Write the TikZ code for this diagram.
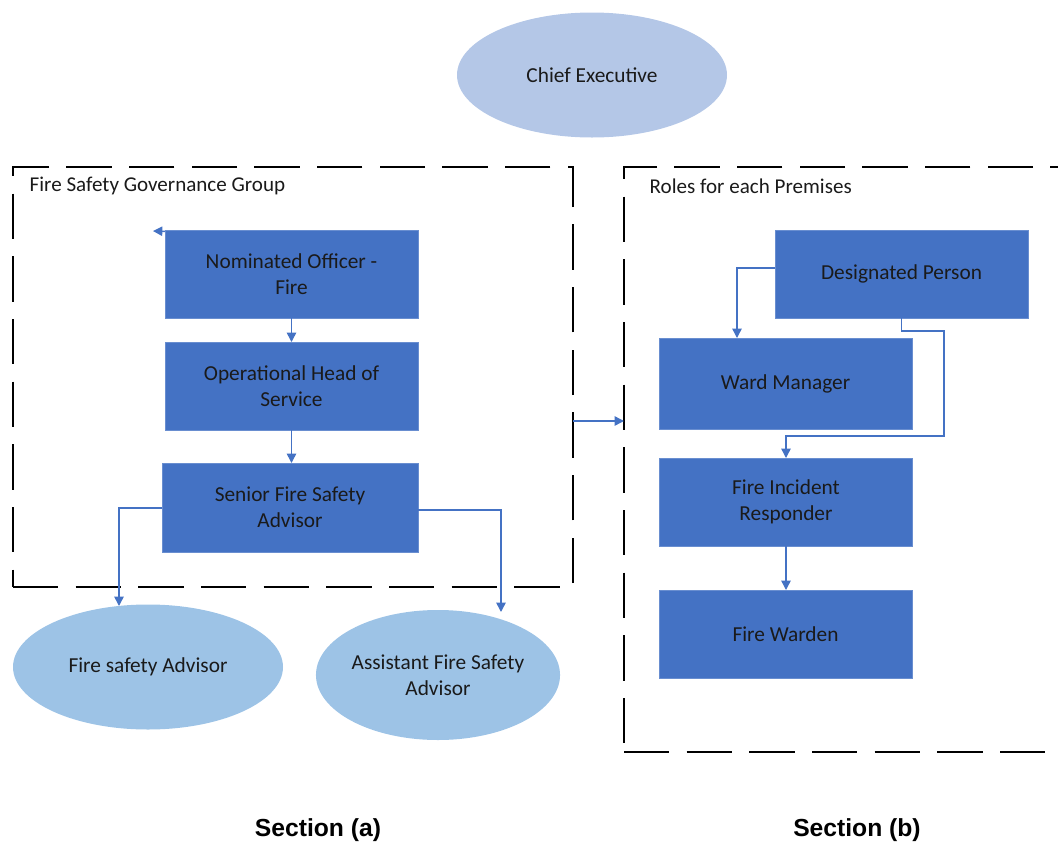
\documentclass[tikz,border=0pt]{standalone}
\usepackage{fontspec}
\setmainfont{Carlito}
\newfontfamily\secfont{Liberation Sans}
\usetikzlibrary{arrows.meta,shapes.geometric}
\definecolor{boxblue}{HTML}{4472C4}
\definecolor{chiefblue}{HTML}{B4C7E7}
\definecolor{ellblue}{HTML}{9DC3E6}
\definecolor{txt}{HTML}{1A1A1A}
\tikzset{
  rolebox/.style={rectangle, fill=boxblue, draw=boxblue!80!white, line width=0.4pt, inner sep=0pt, outer sep=0pt,
    minimum width=189.75pt, minimum height=66pt, align=center, text=txt, font=\fontsize{16}{19.5}\selectfont},
  roleell/.style={ellipse, fill=ellblue, inner sep=0pt, outer sep=0pt, align=center, text=txt,
    font=\fontsize{16}{19.5}\selectfont},
  group/.style={rectangle, draw=black, line width=2.2pt, dash pattern=on 34pt off 13pt, inner sep=0pt, outer sep=0pt},
  grouplabel/.style={anchor=west, text=txt, font=\fontsize{15.8}{18}\selectfont},
  conn/.style={draw=boxblue, line width=1.1pt, -{Triangle[length=7pt,width=7pt]}},
  seclabel/.style={font=\secfont\bfseries\fontsize{18.5}{22}\selectfont, text=black},
}
\begin{document}
\begin{tikzpicture}[x=0.75pt,y=-0.75pt]
\useasboundingbox (0,0) rectangle (1058,843);
\begin{scope}
\clip (0,0) rectangle (1058,843);
% groups
\node[group, minimum width=420pt, minimum height=315pt] (leftgrp) at (293,377) {};
\node[group, minimum width=357pt, minimum height=438.75pt] (rightgrp) at (862,459.5) {};
\end{scope}
\node[grouplabel] (leftlbl) at (25,186) {Fire Safety Governance Group};
\node[grouplabel] (rightlbl) at (645,186) {Roles for each Premises};

% chief
\node[roleell, fill=chiefblue, minimum width=202.5pt, minimum height=93.75pt] (chief) at (592,75) {Chief Executive};

% left column
\node[rolebox] (nom) at (291.5,274) {Nominated Officer -\\Fire};
\node[rolebox] (ops) at (291.5,386) {Operational Head of\\Service};
\node[rolebox, minimum width=192pt, minimum height=66.75pt] (sen) at (290,507.5) {Senior Fire Safety\\Advisor};

\node[roleell, minimum width=202.5pt, minimum height=93.75pt] (fsa) at (148,667) {Fire safety Advisor};
\node[roleell, minimum width=180pt, minimum height=97.5pt] (asa) at (438,675) {Assistant Fire Safety\\Advisor};

% right column
\node[rolebox] (des) at (901.5,274) {Designated Person};
\node[rolebox, minimum height=68.25pt] (ward) at (785.5,383.5) {Ward Manager};
\node[rolebox] (fir) at (786,502) {Fire Incident\\Responder};
\node[rolebox] (warden) at (785.5,634) {Fire Warden};

% coordinates
\coordinate (nomtip) at (153,231);
\coordinate (fsatop) at (119,606);
\coordinate (asatop) at (501,612);
\coordinate (r1) at (944,331);
\coordinate (r2) at (944,436);

% connectors
\draw[conn] ([yshift=-1pt]nom.north west) -- (nomtip);
\draw[conn] (nom.south) -- (ops.north);
\draw[conn] (ops.south) -- (ops.south |- sen.north);
\draw[conn] (sen.west |- 0,508) -| (fsatop);
\draw[conn] (sen.east |- 0,510) -| (asatop);
\draw[conn] (leftgrp.east |- 0,421) -- (rightgrp.west |- 0,421);
\draw[conn] (des.west |- 0,268) -| (ward.north -| 737,0);
\draw[conn] (des.south) |- (r1) -- (r2) -| (fir.north);
\draw[conn] (fir.south) -- (fir.south |- warden.north);

% section labels
\node[seclabel] (seca) at (318,830) {Section (a)};
\node[seclabel] (secb) at (857,830) {Section (b)};
\end{tikzpicture}
\end{document}
